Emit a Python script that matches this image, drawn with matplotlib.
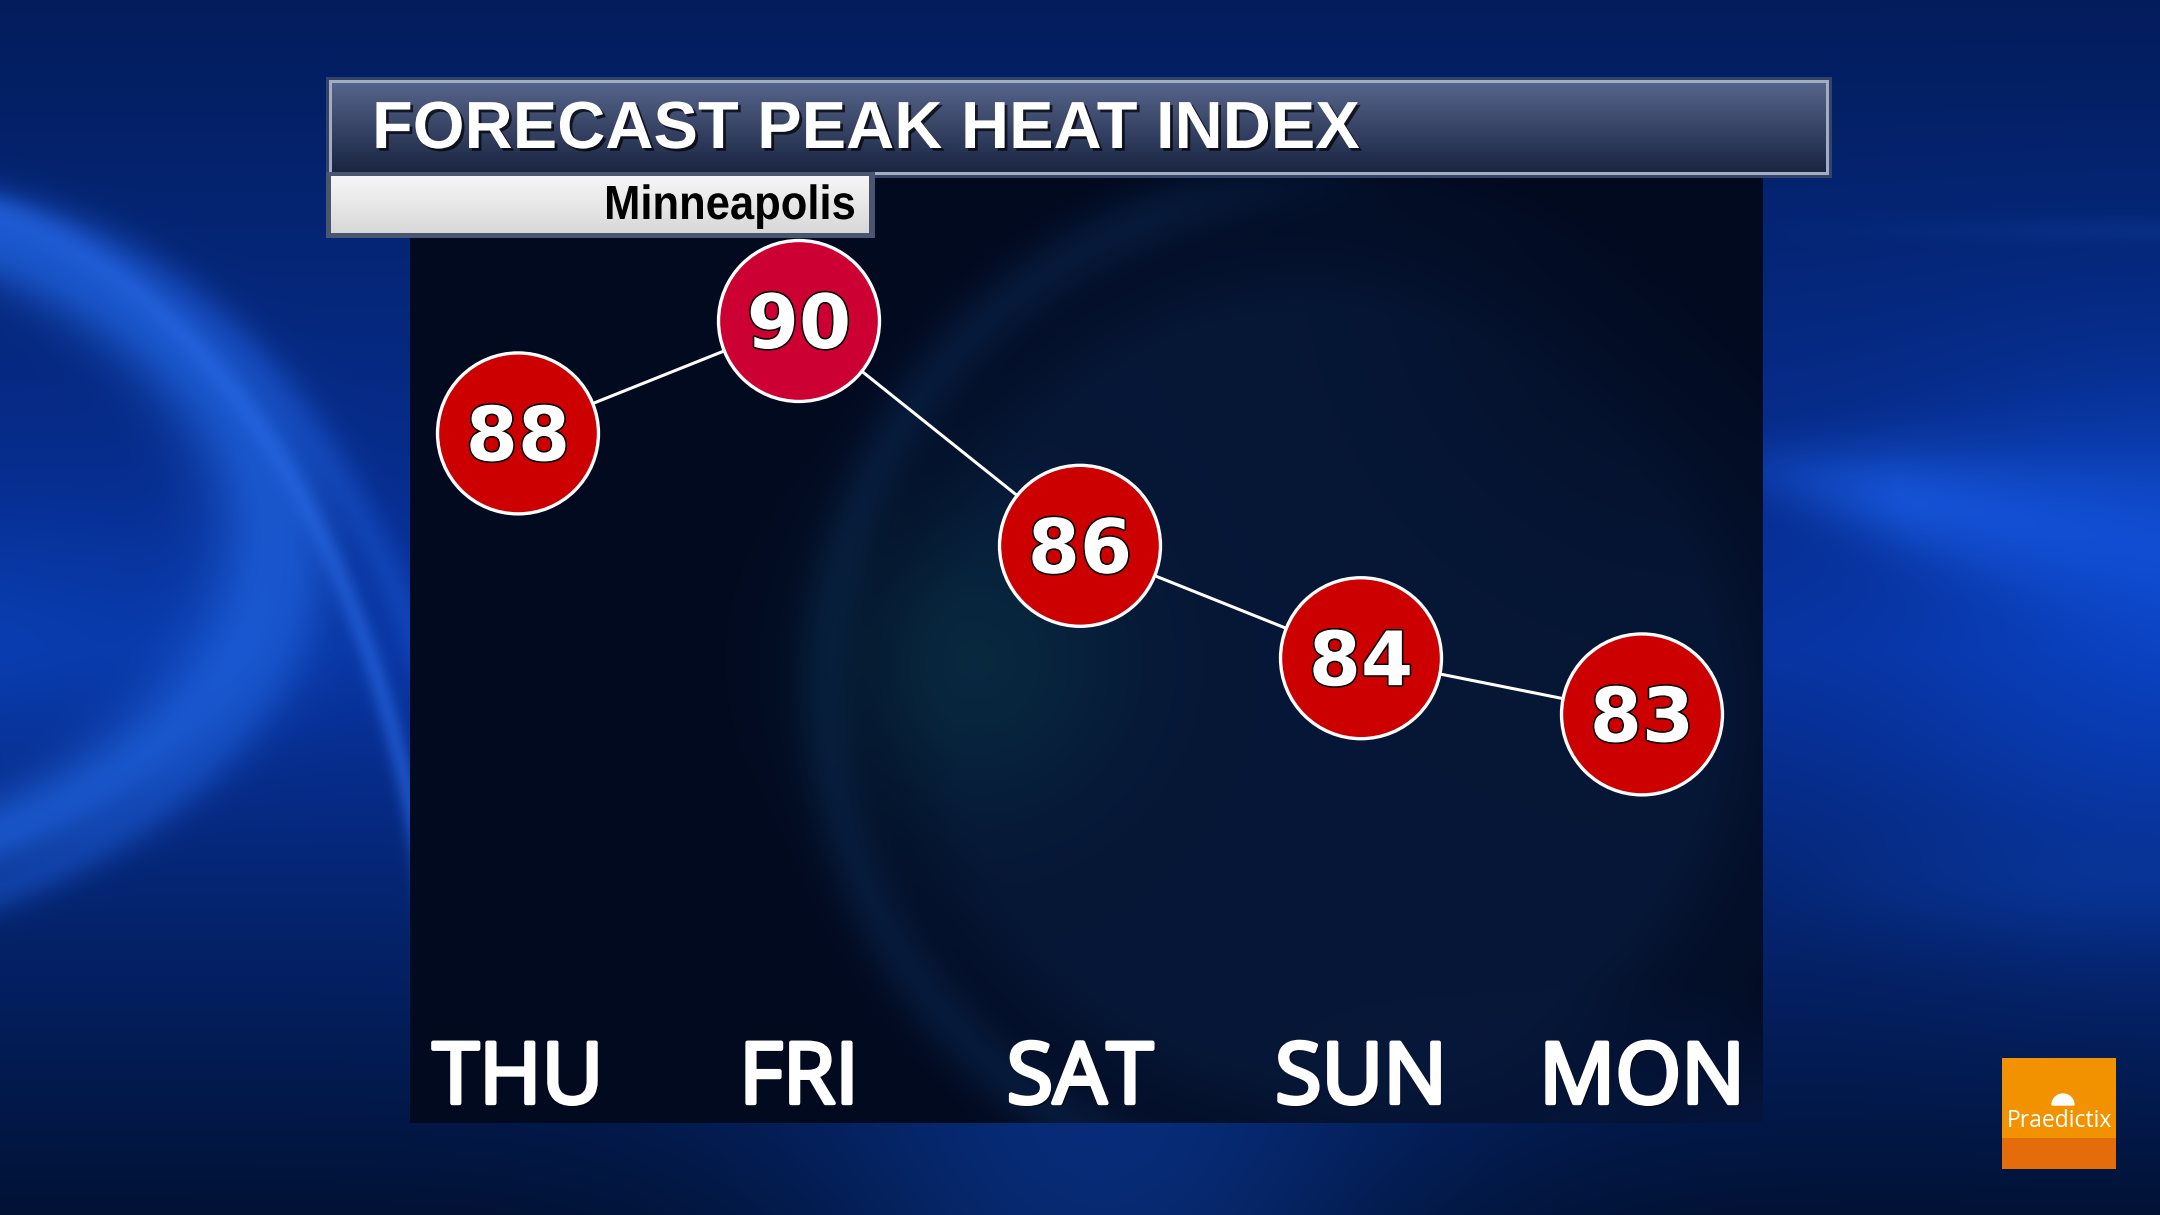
import numpy as np
import matplotlib
matplotlib.use('Agg')
import matplotlib.pyplot as plt
import matplotlib.colors as mcolors
import matplotlib.patheffects as pe
from matplotlib.patches import Wedge, PathPatch
from matplotlib.textpath import TextPath
from matplotlib.font_manager import FontProperties
from matplotlib.transforms import Affine2D

# data
days = ['THU', 'FRI', 'SAT', 'SUN', 'MON']
heat_index = [88, 90, 86, 84, 83]
circle_colors = ['#cc0000', '#cc0033', '#cc0000', '#cc0000', '#cc0000']
title = 'FORECAST PEAK HEAT INDEX'
subtitle = 'Minneapolis'

W, H = 2160, 1215


def rgb(c):
    return np.array(mcolors.to_rgb(c))


def paint(img, mask, color, strength=1.0):
    m = np.clip(mask * strength, 0, 1)[..., None]
    return img * (1 - m) + rgb(color) * m


def arc(X, Y, cx, cy, rx, ry, width):
    d = np.sqrt(((X - cx) / rx) ** 2 + ((Y - cy) / ry) ** 2)
    return np.exp(-((d - 1) / width) ** 2)


def glow(X, Y, cx, cy, r):
    return np.exp(-(((X - cx) ** 2 + (Y - cy) ** 2) / r ** 2))


def vgrad(img, y0, y1, x0, x1, c_top, c_bot):
    t = np.linspace(0, 1, y1 - y0)[:, None, None]
    img[y0:y1, x0:x1] = rgb(c_top) * (1 - t) + rgb(c_bot) * t


# ---- background (blue swooshes) ----
X, Y = np.meshgrid(np.arange(W), np.arange(H))
img = np.zeros((H, W, 3))
yy = Y[..., None]
top, mid, bot = rgb('#031d5c'), rgb('#0833a0'), rgb('#011234')
t1 = np.clip(yy / 650, 0, 1)
t2 = np.clip((yy - 650) / 565, 0, 1)
img[:] = np.where(yy < 650, top * (1 - t1) + mid * t1, mid * (1 - t2) + bot * t2)
# soft horizontal glow on the left
img = paint(img, np.exp(-((Y - 640) / 110) ** 2) * np.clip(1 - X / 500, 0, 1), '#0b47c0', 0.5)
# left swoosh bands
img = paint(img, arc(X, Y, -330, 540, 600, 350, 0.10), '#1f62de', 0.75)
img = paint(img, arc(X, Y, -330, 560, 620, 390, 0.05), '#1a58d0', 0.45)
upper = np.clip((1000 - Y) / 100, 0, 1)
img = paint(img, arc(X, Y, -100, 1100, 540, 900, 0.02) * upper, '#2a6ae6', 0.55)
img = paint(img, arc(X, Y, -60, 1120, 560, 910, 0.03) * upper, '#1d5ad8', 0.4)
# right streaks
cy = 470 + (X - 1760) * 0.2
hw = 30 + np.clip(X - 1760, 0, None) * 0.15
img = paint(img, np.exp(-((Y - cy) / hw) ** 2) * np.clip((X - 1700) / 200, 0, 1), '#1a5ae0', 0.85)
img = paint(img, glow(X, Y, 2160, 640, 260), '#0b48d0', 0.6)
img = paint(img, np.exp(-((Y - 230) / 12) ** 2) * np.clip((X - 1760) / 400, 0, 1), '#0c3a98', 0.4)
img = paint(img, np.exp(-((Y - 880) / 50) ** 2) * np.clip((X - 1760) / 300, 0, 1), '#0a3aa0', 0.5)
# below the panel
img = paint(img, glow(X, Y, 1100, 1180, 320), '#0d42b0', 0.5)

# dark chart panel
px0, px1, py0, py1 = 410, 1763, 176, 1123
pX, pY = X[py0:py1, px0:px1], Y[py0:py1, px0:px1]
panel = np.zeros((py1 - py0, px1 - px0, 3))
panel[:] = rgb('#020a20')
r = np.sqrt((pX - 1330) ** 2 + (pY - 690) ** 2)
panel = paint(panel, np.clip((520 - r) / 140, 0, 1), '#07193a', 0.85)
panel = paint(panel, np.exp(-((r - 505) / 30) ** 2) * np.clip((1450 - pX) / 300, 0.2, 1), '#0b2850', 0.5)
panel = paint(panel, glow(pX, pY, 975, 660, 140), '#0a3a48', 0.5)
panel = paint(panel, glow(pX, pY, 1700, 260, 260), '#020a20', 0.6)
panel = paint(panel, np.clip((pY - 980) / 150, 0, 1) * np.clip((pX - 1250) / 500, 0, 1), '#0a2a70', 0.4)
img[py0:py1, px0:px1] = panel

# title bar
img[77:178, 326:1832] = rgb('#34436a')
img[80:175, 329:1829] = rgb('#a4acc0')
vgrad(img, 83, 172, 332, 1826, '#55648a', '#1a2542')
# subtitle box
img[172:238, 326:875] = rgb('#4a5570')
vgrad(img, 176, 233, 331, 869, '#f6f6f6', '#d8d8d8')
# logo
img[1058:1138, 2002:2116] = rgb('#f39200')
img[1138:1169, 2002:2116] = rgb('#e46c0a')

fig = plt.figure(figsize=(21.6, 12.15), dpi=100)
bg = fig.add_axes([0, 0, 1, 1])
bg.imshow(img, extent=(0, W, H, 0), interpolation='nearest')
bg.set_xlim(0, W)
bg.set_ylim(H, 0)
bg.axis('off')

bg.text(372, 148, title, color='white', fontsize=48, fontweight='bold',
        family='Liberation Sans', va='baseline', ha='left',
        path_effects=[pe.withSimplePatchShadow(offset=(2, -2), shadow_rgbFace='black', alpha=0.7)])

# condensed subtitle
fp = FontProperties(family='Liberation Sans', weight='bold')
tp = TextPath((0, 0), subtitle, size=1, prop=fp)
ext = tp.get_extents()
cap = TextPath((0, 0), 'M', size=1, prop=fp).get_extents().height
sub_w, sub_cap, sub_right, sub_base = 247, 33, 854, 219
tr = Affine2D().translate(-ext.x0, 0).scale(sub_w / ext.width, -sub_cap / cap).translate(sub_right - sub_w, sub_base)
bg.add_patch(PathPatch(tr.transform_path(tp), fc='black', lw=0))

bg.text(2059, 1127, 'Praedictix', color='white', fontsize=16.5, family='Open Sans',
        va='baseline', ha='center')
bg.add_patch(Wedge((2063, 1105), 11, 180, 360, color='white'))

# ---- chart ----
x = np.arange(len(days))
ax = fig.add_axes([377.5 / W, (H - py1) / H, 1405 / W, (py1 - py0) / H])
ax.set_xlim(-0.5, 4.5)
ax.set_ylim(75.73, 92.58)
ax.axis('off')
ax.patch.set_alpha(0)

ax.plot(x, heat_index, color='white', lw=2.2, zorder=2)
ax.scatter(x, heat_index, s=13430, c=circle_colors, edgecolors='white', linewidths=2.4, zorder=3)
for xi, v in zip(x, heat_index):
    ax.text(xi, v - 0.48, str(v), color='white', fontsize=54, fontweight='bold',
            family='DejaVu Sans', ha='center', va='baseline', zorder=4,
            path_effects=[pe.withStroke(linewidth=2.2, foreground='black')])

for xi, d in zip(x, days):
    ax.text(xi, 0.021, d, transform=ax.get_xaxis_transform(), color='white',
            fontsize=61, family='Open Sans', ha='center', va='baseline',
            path_effects=[pe.withSimplePatchShadow(offset=(2, -2), shadow_rgbFace='black', alpha=0.5),
                          pe.Stroke(linewidth=3, foreground='white'), pe.Normal()])

fig.savefig('out.png', dpi=100)
